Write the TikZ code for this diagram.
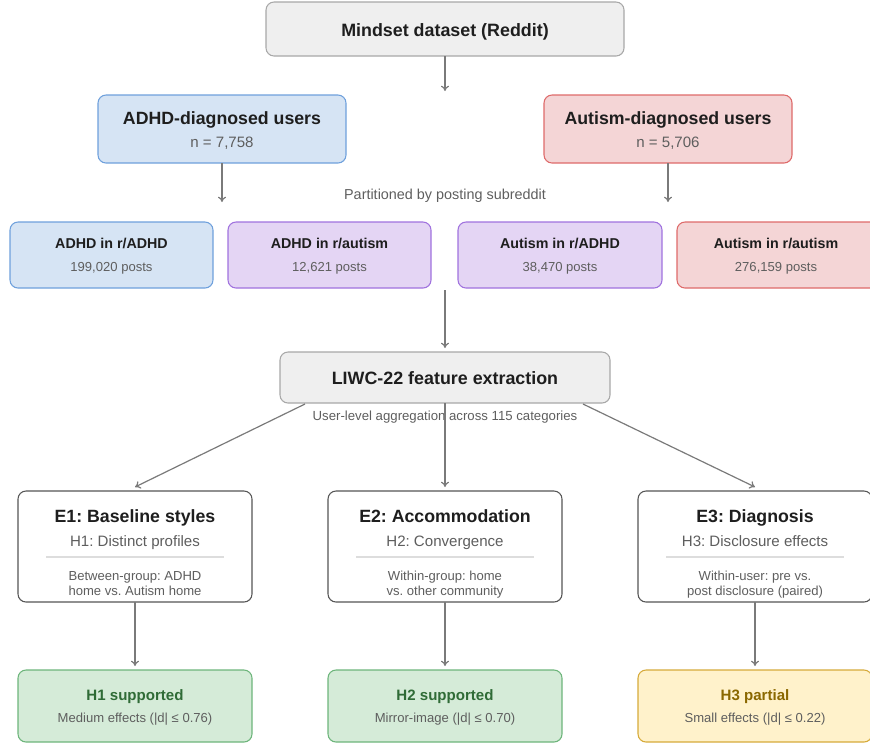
\documentclass[tikz,border=0pt]{standalone}
\usepackage{fontspec}
\setmainfont{Liberation Sans}
\frenchspacing
\usetikzlibrary{arrows.meta}
\definecolor{greyfill}{HTML}{EFEFEF}
\definecolor{greyline}{HTML}{A8A8A8}
\definecolor{bluefill}{HTML}{D6E4F4}
\definecolor{blueline}{HTML}{6EA0DC}
\definecolor{redfill}{HTML}{F4D5D6}
\definecolor{redline}{HTML}{DE6A6A}
\definecolor{purpfill}{HTML}{E4D5F4}
\definecolor{purpline}{HTML}{A072DE}
\definecolor{greenfill}{HTML}{D5EBD8}
\definecolor{greenline}{HTML}{6DB57B}
\definecolor{greentext}{HTML}{2F6B36}
\definecolor{yelfill}{HTML}{FFF2CB}
\definecolor{yelline}{HTML}{D6AA3A}
\definecolor{yeltext}{HTML}{8A6800}
\definecolor{txtdark}{HTML}{1E1E1E}
\definecolor{txtgrey}{HTML}{5E5E5E}
\definecolor{arrowgrey}{HTML}{7A7A7A}
\definecolor{boxdark}{HTML}{555555}
\definecolor{sepgrey}{HTML}{DDDDDD}
\tikzset{
  px/.style={x=0.75pt,y=-0.75pt},
  box/.style={draw, rounded corners=6pt, line width=0.8pt, inner sep=0pt, outer sep=0pt, anchor=north west},
  conn/.style={draw=arrowgrey, line width=0.9pt, -{To[length=4pt,width=6pt]}},
  txt/.style={anchor=base, inner sep=0pt},
  ttl/.style={txt, font=\fontsize{13.3pt}{15pt}\selectfont\bfseries, text=txtdark},
  sub/.style={txt, font=\fontsize{11.3pt}{13pt}\selectfont, text=txtgrey},
  sttl/.style={txt, font=\fontsize{10.7pt}{12pt}\selectfont\bfseries, text=txtdark},
  small/.style={txt, font=\fontsize{9.8pt}{11.5pt}\selectfont, text=txtgrey},
  rttl/.style={txt, font=\fontsize{11.3pt}{13pt}\selectfont\bfseries},
}
\begin{document}
\begin{tikzpicture}[px]
\useasboundingbox (0,0) rectangle (870,744);
\clip (0,0) rectangle (870,744);
% top
\node[box, fill=greyfill, draw=greyline, minimum width=358*0.75pt, minimum height=54*0.75pt] (mind) at (266,2) {};
\node[ttl, font=\fontsize{13.4pt}{15pt}\selectfont\bfseries] (mindt) at (445,36) {Mindset dataset (Reddit)};
% users
\node[box, fill=bluefill, draw=blueline, minimum width=248*0.75pt, minimum height=68*0.75pt] (adhd) at (98,95) {};
\node[ttl] (adhdt) at (222,124.3) {ADHD-diagnosed users};
\node[sub] (adhdn) at (222,147.5) {n = 7,758};
\node[box, fill=redfill, draw=redline, minimum width=248*0.75pt, minimum height=68*0.75pt] (aut) at (544,95) {};
\node[ttl] (autt) at (668,124.3) {Autism-diagnosed users};
\node[sub] (autn) at (668,147.5) {n = 5,706};
\node[txt, font=\fontsize{10.8pt}{12pt}\selectfont, text=txtgrey] (part) at (445,199.5) {Partitioned by posting subreddit};
\coordinate (a1) at (222,202);
\coordinate (a2) at (668,202);
\coordinate (mtop) at (445,91);
\draw[conn] (adhd.south -| a1) -- (a1);
\draw[conn] (aut.south -| a2) -- (a2);
\draw[conn] (mind.south -| mtop) -- (mtop);
% partitions
\node[box, fill=bluefill, draw=blueline, minimum width=203*0.75pt, minimum height=66*0.75pt] (p1) at (10,222) {};
\node[sttl] (p1t) at (111.5,248.3) {ADHD in r/ADHD};
\node[small] (p1n) at (111.5,271.7) {199,020 posts};
\node[box, fill=purpfill, draw=purpline, minimum width=203*0.75pt, minimum height=66*0.75pt] (p2) at (228,222) {};
\node[sttl] (p2t) at (329.5,248.3) {ADHD in r/autism};
\node[small] (p2n) at (329.5,271.7) {12,621 posts};
\node[box, fill=purpfill, draw=purpline, minimum width=204*0.75pt, minimum height=66*0.75pt] (p3) at (458,222) {};
\node[sttl] (p3t) at (560,248.3) {Autism in r/ADHD};
\node[small] (p3n) at (560,271.7) {38,470 posts};
\node[box, fill=redfill, draw=redline, minimum width=205*0.75pt, minimum height=66*0.75pt] (p4) at (677,222) {};
\node[sttl] (p4t) at (776,248.3) {Autism in r/autism};
\node[small] (p4n) at (776,271.7) {276,159 posts};
% LIWC
\node[box, fill=greyfill, draw=greyline, minimum width=330*0.75pt, minimum height=51*0.75pt] (liwc) at (280,352) {};
\node[ttl, font=\fontsize{13.4pt}{15pt}\selectfont\bfseries] (liwct) at (445,384.3) {LIWC-22 feature extraction};
\coordinate (liwctop) at (445,348);
\coordinate (pbot) at (445,290);
\draw[conn] (pbot) -- (liwctop);
% experiments
\foreach \n/\cx in {e1/135,e2/445,e3/755}{
  \node[box, fill=white, draw=boxdark, minimum width=234*0.75pt, minimum height=111*0.75pt] (\n) at (\cx-117,491) {};
  \draw[sepgrey, line width=0.8pt] (\cx-89,557) -- (\cx+89,557);
}
\node[ttl] (e1t) at (135,522) {E1: Baseline styles};
\node[sub] (e1s) at (135,546.7) {H1: Distinct profiles};
\node[small] (e1d) at (135,580) {Between-group: ADHD};
\node[small] (e1d2) at (135,595) {home vs. Autism home};
\node[ttl] (e2t) at (445,522) {E2: Accommodation};
\node[sub] (e2s) at (445,546.7) {H2: Convergence};
\node[small] (e2d) at (445,580) {Within-group: home};
\node[small] (e2d2) at (445,595) {vs. other community};
\node[ttl] (e3t) at (755,522) {E3: Diagnosis};
\node[sub] (e3s) at (755,546.7) {H3: Disclosure effects};
\node[small] (e3d) at (755,580) {Within-user: pre vs.};
\node[small] (e3d2) at (755,595) {post disclosure (paired)};
\node[txt, font=\fontsize{9.9pt}{11pt}\selectfont, text=txtgrey] (agg) at (445,420.5) {User-level aggregation across 115 categories};
\coordinate (l1) at (305,404);
\coordinate (l3) at (583,404);
\coordinate (e1in) at (135,487);
\coordinate (e2in) at (445,487);
\coordinate (e3in) at (755,487);
\draw[conn] (l1) -- (e1in);
\draw[conn] (liwc.south) -- (e2in);
\draw[conn] (l3) -- (e3in);
% results
\node[box, fill=greenfill, draw=greenline, minimum width=234*0.75pt, minimum height=72*0.75pt] (r1) at (18,670) {};
\node[rttl, text=greentext] (r1t) at (135,700) {H1 supported};
\node[small] (r1d) at (135,722.7) {Medium effects (|d| ≤ 0.76)};
\node[box, fill=greenfill, draw=greenline, minimum width=234*0.75pt, minimum height=72*0.75pt] (r2) at (328,670) {};
\node[rttl, text=greentext] (r2t) at (445,700) {H2 supported};
\node[small] (r2d) at (445,722.7) {Mirror-image (|d| ≤ 0.70)};
\node[box, fill=yelfill, draw=yelline, minimum width=234*0.75pt, minimum height=72*0.75pt] (r3) at (638,670) {};
\node[rttl, text=yeltext] (r3t) at (755,700) {H3 partial};
\node[small] (r3d) at (755,722.7) {Small effects (|d| ≤ 0.22)};
\coordinate (r1in) at (135,666);
\coordinate (r2in) at (445,666);
\coordinate (r3in) at (755,666);
\draw[conn] (e1.south) -- (r1in);
\draw[conn] (e2.south) -- (r2in);
\draw[conn] (e3.south) -- (r3in);
\end{tikzpicture}
\end{document}
